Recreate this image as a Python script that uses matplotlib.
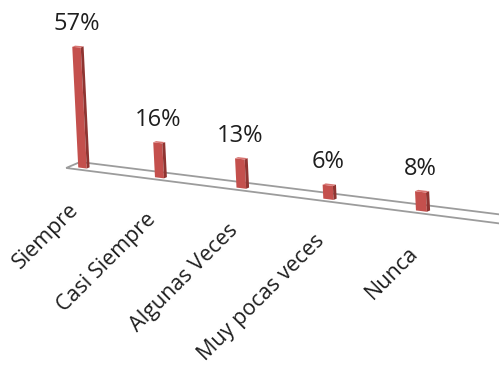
import matplotlib
matplotlib.use('Agg')
import numpy as np
import matplotlib.pyplot as plt
from matplotlib.transforms import Transform, offset_copy
from matplotlib.patches import Polygon

# ---- data ----
categories = ['Siempre', 'Casi Siempre', 'Algunas Veces', 'Muy pocas veces', 'Nunca']
values = [57, 16, 13, 6, 8]
value_labels = ['57%', '16%', '13%', '6%', '8%']

# ---- projection parameters (pixels) ----
W_PX, H_PX = 499, 367
X0, Y0 = 82.5, 168.0      # origin: first category, front of bars, floor level
A, B = 74.7, 9.5          # step along category axis
C = 0.0296                # perspective strength
DX, DY = 14.0, -6.0       # depth direction
H = 2.12                  # px per percent
LX = 0.105                # vertical lean


class Perspective(Transform):
    input_dims = 2
    output_dims = 2
    is_separable = False
    has_inverse = False

    def __init__(self, order, fixed):
        super().__init__()
        self.order = order
        self.fixed = fixed

    def transform_non_affine(self, vals):
        vals = np.atleast_2d(np.asarray(vals, float))
        d = {self.order[0]: vals[:, 0], self.order[1]: vals[:, 1]}
        miss = ({'u', 'w', 'v'} - set(self.order)).pop()
        d[miss] = np.full(len(vals), self.fixed)
        u, w, v = d['u'], d['w'], d['v']
        s = 1.0 / (1.0 - C * u)
        x = X0 + s * (A * u + DX * w - LX * v)
        y = Y0 + s * (B * u + DY * w - H * v)
        return np.column_stack([x / W_PX, 1.0 - y / H_PX])


fig = plt.figure(figsize=(W_PX / 100, H_PX / 100), dpi=100)
fig.patch.set_facecolor('white')


def proj(order, fixed):
    return Perspective(order, fixed) + fig.transFigure


# floor
u_left, u_right = -0.17, 5.4
w_front, w_back = -0.265, 0.735
floor_t = proj(('u', 'w'), 0.0)
floor = Polygon([(u_left, w_front), (u_right, w_front), (u_right, w_back), (u_left, w_back)],
                closed=True, facecolor='white', edgecolor='#9c9c9c', linewidth=1.3,
                transform=floor_t, zorder=1)
fig.add_artist(floor)

# bars
hw = 0.057
depth = 0.2
front_c, side_c, top_c = '#c4504d', '#8f3431', '#d87572'
for i, (val, lab) in enumerate(zip(values, value_labels)):
    front = Polygon([(i - hw, 0), (i + hw, 0), (i + hw, val), (i - hw, val)],
                    facecolor=front_c, edgecolor='none',
                    transform=proj(('u', 'v'), 0.0), zorder=3 + i)
    side = Polygon([(0, 0), (depth, 0), (depth, val), (0, val)],
                   facecolor=side_c, edgecolor='none',
                   transform=proj(('w', 'v'), i + hw), zorder=3 + i)
    top = Polygon([(i - hw, 0), (i + hw, 0), (i + hw, depth), (i - hw, depth)],
                  facecolor=top_c, edgecolor='none',
                  transform=proj(('u', 'w'), val), zorder=3 + i)
    for p in (front, side, top):
        fig.add_artist(p)
    t = offset_copy(proj(('u', 'v'), 0.0), fig=fig, x=0, y=12.2, units='points')
    fig.text(i, val, lab, transform=t, ha='center', va='baseline',
             fontsize=17, family='Open Sans', color='#1e1e1e', zorder=20)

# category labels
for i, cat in enumerate(categories):
    t = offset_copy(proj(('u', 'v'), 0.0), fig=fig, x=0.5, y=-22.5, units='points')
    fig.text(i, 0, cat, transform=t, ha='right', va='top', rotation=45,
             fontsize=15.5, family='Open Sans', color='#1e1e1e', zorder=20)

fig.savefig('out.png', dpi=100)
